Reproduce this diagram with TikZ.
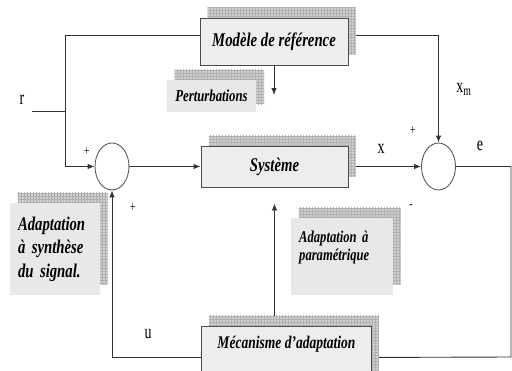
\documentclass[tikz,border=0pt]{standalone}
\usepackage{fontspec}
\setmainfont{Liberation Serif}
\newfontfamily\boxfont[FakeStretch=0.76]{Liberation Serif}
\newfontfamily\labelfont[FakeStretch=0.7]{Liberation Serif}
\usetikzlibrary{arrows.meta,shapes.geometric,shadows,patterns,backgrounds}

\tikzset{
  gridfill/.style={fill=gray!38, postaction={pattern=grid, pattern color=gray!62}},
  boxshadow/.style={general shadow={shadow xshift=7.5pt, shadow yshift=10.5pt, gridfill}},
  blockbox/.style={draw=black!70, line width=0.9pt, fill=gray!14, inner sep=0pt, boxshadow,
    font=\boxfont\bfseries\itshape\fontsize{19.4}{22}\selectfont},
  notebox/.style={fill=gray!18, inner sep=0pt, boxshadow,
    font=\boxfont\bfseries\itshape\fontsize{19.4}{23.5}\selectfont},
  sumnode/.style={ellipse, draw=black!65, line width=0.9pt, fill=white, inner sep=0pt, minimum width=34pt, minimum height=47pt},
  wire/.style={draw=black!80, line width=0.9pt},
  sign/.style={inner sep=0.75pt, font=\labelfont\fontsize{20}{20}\selectfont},
  >={Latex[length=7pt,width=5.5pt]}
}

\begin{document}
\begin{tikzpicture}[x=1pt,y=-1pt]
  % Page is 512 wide and 370 high, y grows downwards
  \useasboundingbox (0,0) rectangle (512,370);

  % The three blocks of the loop
  \node (modele) [blockbox, minimum width=148pt, minimum height=47pt] at (274,41.5) {Modèle de référence};
  \node (systeme) [blockbox, minimum width=147pt, minimum height=41pt] at (274.5,166.5) {Système};
  \node (mecanisme) [blockbox, anchor=north west, minimum width=170pt, text height=12pt, text depth=30pt, inner ysep=10pt,
    font=\boxfont\bfseries\itshape\fontsize{17.8}{20}\selectfont] at (201,326) {Mécanisme d’adaptation};

  % Grey comment boxes
  \node (perturb) [notebox, general shadow={shadow xshift=8pt, shadow yshift=8pt, gridfill},
    minimum width=89pt, minimum height=32pt, font=\boxfont\bfseries\itshape\fontsize{16.8}{18}\selectfont] at (211.5,96) {Perturbations};
  \node (synthese) [notebox, text width=74pt, align=left, inner xsep=8pt, minimum height=92pt] at (55,249) {Adaptation\\à synthèse\\du signal.};
  \node (parametre) [notebox, anchor=north west, text width=86pt, align=left, inner xsep=8pt, inner ysep=13pt, text height=11pt, text depth=40pt,
    font=\boxfont\bfseries\itshape\fontsize{16.6}{18}\selectfont] at (291,218) {Adaptation à\\paramétrique};

  % Summing points
  \node (somme1) [sumnode] at (112,166.5) {};
  \node (somme2) [sumnode] at (438.5,166.5) {};

  % Free ends and corners of the wires
  \coordinate (entree) at (32,111);
  \coordinate (noeud) at (65,35);
  \coordinate (coin) at (511,357);
  \coordinate (pointe) at (274,95);

  % Wires go under the blocks and their shadows
  \begin{scope}[on background layer]
    \draw[wire] (entree) -- (entree -| noeud);
    \draw[wire,->] (modele.west |- noeud) -- (noeud) |- (somme1.west);
    \draw[wire,->] (somme1.east) -- (systeme.west);
    \draw[wire,->] (systeme.east) -- (somme2.west);
    \draw[wire,->] (modele.east |- noeud) -| (somme2.north);
    \draw[wire] (somme2.east) -- (somme2.east -| coin) -- (coin) -- (mecanisme.east);
    \draw[wire,->] (mecanisme.west) -| (somme1.south);
    \draw[wire,->,shorten >=16pt] (mecanisme.north -| systeme.south) -- (systeme.south);
    \draw[wire,->] (modele.south) -- (pointe);
  \end{scope}

  % Signal names and signs
  \node (lr) [sign] at (22,100) {r};
  \node (lx) [sign] at (381,149) {x};
  \node (lxm) [sign] at (464,89) {x\textsubscript{m}};
  \node (le) [sign] at (480,146) {e};
  \node (lu) [sign] at (148,334) {u};
  \node (plus1) [sign, font=\labelfont\fontsize{14}{14}\selectfont] at (87,152) {+};
  \node (plus2) [sign, font=\labelfont\fontsize{14}{14}\selectfont] at (133,208) {+};
  \node (plus3) [sign, font=\labelfont\fontsize{14}{14}\selectfont] at (413,131) {+};
  \node (moins) [sign, font=\labelfont\fontsize{14}{14}\selectfont] at (411,207) {-};
\end{tikzpicture}
\end{document}
